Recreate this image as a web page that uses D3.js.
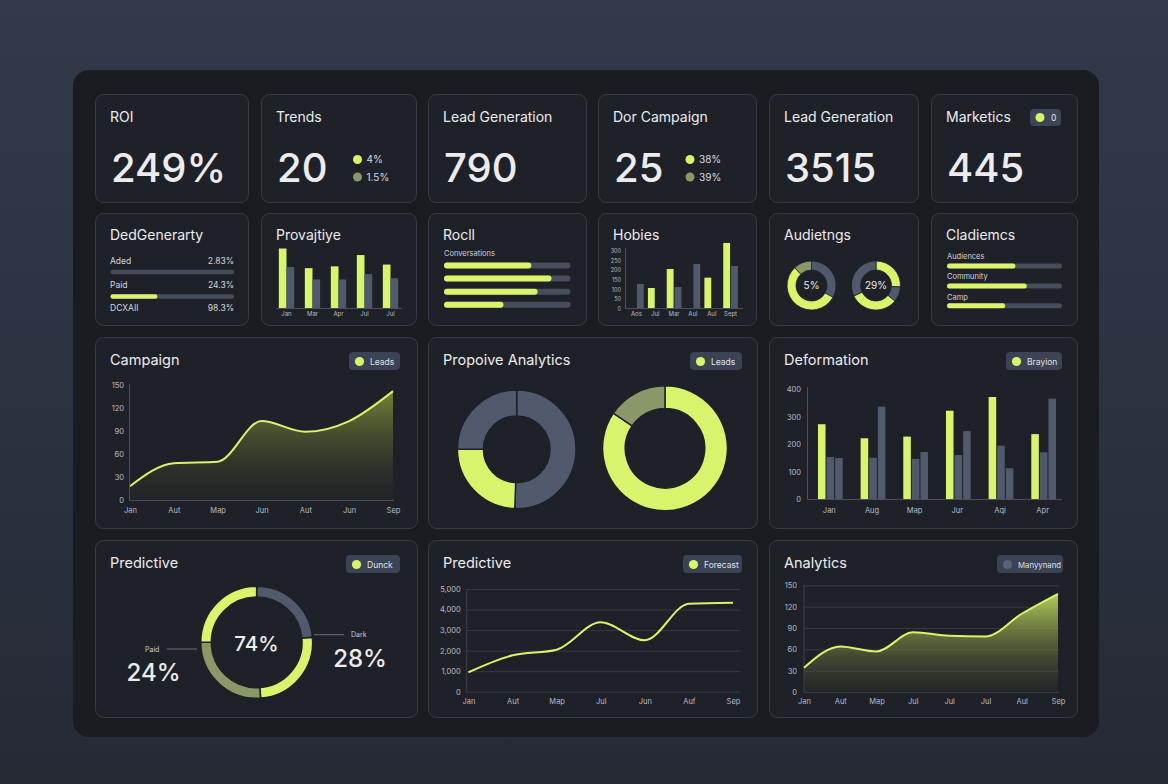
<!DOCTYPE html>
<html><head><meta charset="utf-8">
<script src="https://cdn.jsdelivr.net/npm/d3@7"></script>
<style>html,body{margin:0;padding:0;background:#2b3140;} svg{display:block;font-family:Inter,"Open Sans",sans-serif;}</style>
</head><body><svg id="c" width="1168" height="784"></svg>
<script>
// ---------- DATA ----------
const kpiTitles = ["ROI","Trends","Lead Generation","Dor Campaign","Lead Generation","Marketics"];
const kpiValues = ["249%","20","790","25","3515","445"];
const trendsLegend = ["4%","1.5%"];
const dorLegend = ["38%","39%"];
const marketicsBadge = "0";

const row2Titles = ["DedGenerarty","Provajtiye","Rocll","Hobies","Audietngs","Cladiemcs"];
const dedLabels = ["Aded","Paid","DCXAII"];
const dedValues = ["2.83%","24.3%","98.3%"];
const dedFill = [0, 0.38];
const provMonths = ["Jan","Mar","Apr","Jul","Jul"];
const provLime = [100,67,70,89,73];
const provGrey = [69,48,48,57,50];
const rocllSub = "Conversations";
const rocllValues = [0.69,0.85,0.74,0.47];
const hobMonths = ["Aos","Jul","Mar","Aul","Aul","Sept"];
const hobLime = [0,107,206,0,161,342];
const hobGrey = [128,0,112,232,0,222];
const hobTicks = [0,50,100,150,200,250,300];
const audDonutA = [33,55,12];
const audDonutB = [26,10,32,32];
const audLabels = ["5%","29%"];
const cladLabels = ["Audiences","Community","Camp"];
const cladValues = [0.595,0.694,0.506];

const row3Titles = ["Campaign","Propoive Analytics","Deformation"];
const campMonths = ["Jan","Aut","Map","Jun","Aut","Jun","Sep"];
const campValues = [18,48,50,103,89,103,142];
const campTicks = [0,30,60,90,120,150];
const propDonutA = [50.5,24.5,25];
const propDonutB = [84.5,15.5];
const defMonths = ["Jan","Aug","Map","Jur","Aqi","Apr"];
const defLime = [273,222,228,322,372,237];
const defGreyA = [154,151,147,161,195,171];
const defGreyB = [150,337,172,248,113,366];
const defTicks = [0,100,200,300,400];

const row4Titles = ["Predictive","Predictive","Analytics"];
const predDonut = [23.6,25.3,26.1,25];
const predCenter = "74%";
const predSides = [{label:"Paid", value:"24%"},{label:"Dark", value:"28%"}];
const lineMonths = ["Jan","Aut","Map","Jul","Jun","Auf","Sep"];
const lineValues = [945,1772,2045,3379,2502,4284,4333];
const lineTicks = [0,1000,2000,3000,4000,5000];
const anMonths = ["Jan","Aut","Map","Jul","Jul","Jul","Aul","Sep"];
const anValues = [34,64,57,84,79,78,110,138];
const anTicks = [0,30,60,90,120,150];
const legendLabels = ["Leads","Leads","Brayion","Dunck","Forecast","Manyynand"];

// ---------- STYLE ----------
const LIME="#d7f46c", GREY="#505a6c", OLIVE="#8a9769", TRACK="#474d5a", CARD="#1f2129", TXT="#ececef", AX="#b8bcc5";
const FONT = 'Inter,"Open Sans",sans-serif';

const svg = d3.select('#c');
const defs = svg.append('defs');
const bg = defs.append('linearGradient').attr('id','bg').attr('x1',0).attr('y1',0).attr('x2',0).attr('y2',1);
bg.append('stop').attr('offset',0).attr('stop-color','#323a4b');
bg.append('stop').attr('offset',1).attr('stop-color','#252a35');
function vgrad(id, top, topOp, bot, botOp){
  const g = defs.append('linearGradient').attr('id',id).attr('x1',0).attr('y1',0).attr('x2',0).attr('y2',1);
  g.append('stop').attr('offset',0).attr('stop-color',top).attr('stop-opacity',topOp);
  g.append('stop').attr('offset',1).attr('stop-color',bot).attr('stop-opacity',botOp);
}
vgrad('campFill','#8a9a3c',0.8,'#2b2f26',0.2);
vgrad('anFill','#bcd75c',0.95,'#2e3326',0.3);

svg.append('rect').attr('width',1168).attr('height',784).attr('fill','url(#bg)');
svg.append('rect').attr('x',73).attr('y',70).attr('width',1026).attr('height',667).attr('rx',16).attr('fill','#1b1c21');

function card(x,y,w,h){
  svg.append('rect').attr('x',x+0.5).attr('y',y+0.5).attr('width',w).attr('height',h).attr('rx',8)
    .attr('fill',CARD).attr('stroke','#383b45');
}
function txt(x,y,s,size,o={}){
  return svg.append('text').attr('x',x).attr('y',y).text(s).attr('font-size',size)
    .attr('font-family',FONT).attr('fill',o.fill||TXT).attr('font-weight',o.w||400)
    .attr('text-anchor',o.anchor||'start');
}
function pill(x,y,w,label,dot,fs){
  svg.append('rect').attr('x',x).attr('y',y).attr('width',w).attr('height',18).attr('rx',4).attr('fill','#3b4354');
  svg.append('circle').attr('cx',x+10.5).attr('cy',y+9.5).attr('r',4.6).attr('fill',dot||LIME);
  txt(x+21,y+12.5,label,fs||8.5,{fill:'#dfe2e8'});
}
function donut(cx,cy,rIn,rOut,values,colors,sw){
  const pie = d3.pie().sort(null).value(d=>d);
  const arc = d3.arc().innerRadius(rIn).outerRadius(rOut);
  svg.append('g').attr('transform',`translate(${cx},${cy})`).selectAll('path').data(pie(values)).join('path')
    .attr('d',arc).attr('fill',(d,i)=>colors[i]).attr('stroke','#1f2129').attr('stroke-width',sw);
}
function styleAxis(a,fs){
  a.select('.domain').remove();
  a.selectAll('text').attr('fill',AX).attr('font-size',fs).attr('font-family',FONT);
  a.selectAll('line').attr('stroke','#363a44');
}
function progress(x,y,w,h,frac){
  svg.append('rect').attr('x',x).attr('y',y-h/2).attr('width',w).attr('height',h).attr('rx',h/2).attr('fill',TRACK);
  if(frac>0) svg.append('rect').attr('x',x).attr('y',y-h/2).attr('width',w*frac).attr('height',h).attr('rx',h/2).attr('fill',LIME);
}

const colX=[95,261,428,598,769,931], colW=[153,155,158,158,149,146];

// ---------- ROW 1 ----------
kpiTitles.forEach((t,i)=>{
  card(colX[i],94,colW[i],108);
  txt(colX[i]+15,122,t,14);
  txt(colX[i]+16,181.5,kpiValues[i],40,{w:500});
});
[[357.5,trendsLegend],[690,dorLegend]].forEach(([x,leg])=>{
  leg.forEach((l,j)=>{
    svg.append('circle').attr('cx',x).attr('cy',159.5+j*17.5).attr('r',4.5).attr('fill',j?OLIVE:LIME);
    txt(x+9,163+j*17.5,l,10,{fill:'#d8dbe0'});
  });
});
svg.append('rect').attr('x',1030).attr('y',109).attr('width',31).attr('height',17).attr('rx',4).attr('fill','#3d4556');
svg.append('circle').attr('cx',1040).attr('cy',117.5).attr('r',4.5).attr('fill',LIME);
txt(1051,121,marketicsBadge,8.5,{fill:'#e6e8ec'});

// ---------- ROW 2 ----------
row2Titles.forEach((t,i)=>{
  card(colX[i],213,colW[i],112);
  txt(colX[i]+15,240,t,14);
});
dedLabels.forEach((l,i)=>{
  const y = 264 + i*23.5;
  txt(110,y,l,8.5,{fill:'#d3d6dc'});
  txt(234,y,dedValues[i],8.5,{fill:'#d3d6dc',anchor:'end'});
  if(i<dedFill.length) progress(110.5,272+i*24.5,123.5,4.5,dedFill[i]);
});
{
  const x = d3.scaleBand().domain(d3.range(provMonths.length)).range([273.5,403.5]).paddingInner(0.41).paddingOuter(0.205);
  const y = d3.scaleLinear().domain([0,100]).range([308,248.5]);
  const bw = x.bandwidth()/2;
  svg.append('g').selectAll('rect').data(provLime).join('rect').attr('x',(d,i)=>x(i)).attr('width',bw)
    .attr('y',d=>y(d)).attr('height',d=>y(0)-y(d)).attr('fill',LIME);
  svg.append('g').selectAll('rect').data(provGrey).join('rect').attr('x',(d,i)=>x(i)+bw).attr('width',bw)
    .attr('y',d=>y(d)).attr('height',d=>y(0)-y(d)).attr('fill',GREY);
  svg.append('line').attr('x1',276.5).attr('x2',402).attr('y1',308.5).attr('y2',308.5).attr('stroke','#4a4f5a');
  const a = svg.append('g').attr('transform','translate(0,309)').call(d3.axisBottom(x).tickSize(0).tickPadding(3).tickFormat(i=>provMonths[i]));
  styleAxis(a,6);
}
txt(444,256,rocllSub,7.5,{fill:'#cfd2d8'});
rocllValues.forEach((v,i)=>progress(444,265.5+i*13.1,126.5,6,v));
{
  const x = d3.scaleBand().domain(d3.range(hobMonths.length)).range([627,740]).paddingInner(0.22).paddingOuter(0.11);
  const y = d3.scaleLinear().domain([0,300]).range([308.5,251]);
  const bw = x.bandwidth()/2;
  svg.append('g').selectAll('rect').data(hobLime).join('rect').attr('x',(d,i)=>x(i)).attr('width',bw-0.5)
    .attr('y',d=>y(d)).attr('height',d=>y(0)-y(d)).attr('fill',LIME);
  svg.append('g').selectAll('rect').data(hobGrey).join('rect').attr('x',(d,i)=>x(i)+bw+0.5).attr('width',bw-0.5)
    .attr('y',d=>y(d)).attr('height',d=>y(0)-y(d)).attr('fill',GREY);
  svg.append('line').attr('x1',625).attr('x2',743).attr('y1',308.5).attr('y2',308.5).attr('stroke','#4a4f5a');
  svg.append('line').attr('x1',625.5).attr('x2',625.5).attr('y1',248).attr('y2',308.5).attr('stroke','#4a4f5a');
  const ay = svg.append('g').attr('transform','translate(625,0)').call(d3.axisLeft(y).tickValues(hobTicks).tickSize(0).tickPadding(4));
  styleAxis(ay,5.5);
  const ax = svg.append('g').attr('transform','translate(0,309)').call(d3.axisBottom(x).tickSize(0).tickPadding(3).tickFormat(i=>hobMonths[i]));
  styleAxis(ax,6);
}
donut(811.5,285.5,15.5,24.5,audDonutA,[GREY,LIME,OLIVE],0.8);
donut(876,285.5,15.5,24.5,audDonutB,[LIME,GREY,LIME,GREY],0.8);
txt(811.5,289,audLabels[0],10,{anchor:'middle',fill:'#e8eaee'});
txt(876,289,audLabels[1],10,{anchor:'middle',fill:'#e8eaee'});
cladLabels.forEach((l,i)=>{
  txt(947,259+i*20.3,l,7.5,{fill:'#d3d6dc'});
  progress(947,266+i*19.9,115,5,cladValues[i]);
});

// ---------- ROW 3 ----------
const bigX=[95,428,769], bigW=[322,329,308];
row3Titles.forEach((t,i)=>{ card(bigX[i],337,bigW[i],191); txt(bigX[i]+15,365,t,14.5); });
pill(349,352,51,legendLabels[0]);
pill(690,352,52,legendLabels[1]);
pill(1006,352,56,legendLabels[2]);
{
  const x = d3.scalePoint().domain(d3.range(campMonths.length)).range([130,393]);
  const y = d3.scaleLinear().domain([0,150]).range([500,385]);
  const area = d3.area().x((d,i)=>x(i)).y0(y(0)).y1(d=>y(d)).curve(d3.curveMonotoneX);
  const line = d3.line().x((d,i)=>x(i)).y(d=>y(d)).curve(d3.curveMonotoneX);
  svg.append('path').datum(campValues).attr('d',area).attr('fill','url(#campFill)');
  svg.append('path').datum(campValues).attr('d',line).attr('fill','none').attr('stroke',LIME).attr('stroke-width',2);
  svg.append('line').attr('x1',129.5).attr('x2',129.5).attr('y1',384).attr('y2',500.5).attr('stroke','#4a4f5a');
  svg.append('line').attr('x1',129.5).attr('x2',394).attr('y1',500.5).attr('y2',500.5).attr('stroke','#4a4f5a');
  const ay = svg.append('g').attr('transform','translate(129,0)').call(d3.axisLeft(y).tickValues(campTicks).tickSize(0).tickPadding(5));
  styleAxis(ay,7.5);
  const ax = svg.append('g').attr('transform','translate(0,501)').call(d3.axisBottom(x).tickSize(0).tickPadding(7).tickFormat(i=>campMonths[i]));
  styleAxis(ax,7.5);
}
donut(516.7,449.3,33.3,59.3,propDonutA,[GREY,LIME,GREY],1.5);
donut(665,448.3,39.7,62.5,propDonutB,[LIME,OLIVE],1.5);
{
  const x = d3.scaleBand().domain(d3.range(defMonths.length)).range([808,1064]).paddingInner(0.42).paddingOuter(0.21);
  const xs = d3.scaleBand().domain([0,1,2]).range([0,x.bandwidth()]).paddingInner(0.12);
  const y = d3.scaleLinear().domain([0,400]).range([499.3,389.3]);
  [[defLime,LIME],[defGreyA,GREY],[defGreyB,GREY]].forEach(([vals,col],k)=>{
    svg.append('g').selectAll('rect').data(vals).join('rect').attr('x',(d,i)=>x(i)+xs(k)+1).attr('width',xs.bandwidth())
      .attr('y',d=>y(d)).attr('height',d=>y(0)-y(d)).attr('fill',col);
  });
  svg.append('line').attr('x1',807.5).attr('x2',807.5).attr('y1',387).attr('y2',499.5).attr('stroke','#4a4f5a');
  svg.append('line').attr('x1',807.5).attr('x2',1062).attr('y1',499.5).attr('y2',499.5).attr('stroke','#4a4f5a');
  const ay = svg.append('g').attr('transform','translate(807,0)').call(d3.axisLeft(y).tickValues(defTicks).tickSize(0).tickPadding(6));
  styleAxis(ay,7.5);
  const ax = svg.append('g').attr('transform','translate(0,500)').call(d3.axisBottom(x).tickSize(0).tickPadding(8).tickFormat(i=>defMonths[i]));
  styleAxis(ax,7.5);
}

// ---------- ROW 4 ----------
row4Titles.forEach((t,i)=>{ card(bigX[i],540,bigW[i],177); txt(bigX[i]+15,568,t,14.5); });
pill(346,555,54,legendLabels[3]);
pill(683,555,59,legendLabels[4]);
pill(997,555,66,legendLabels[5],'#59637a',7.8);
donut(256.7,642.3,45.3,56,predDonut,[GREY,LIME,OLIVE,LIME],1.6);
txt(256.5,650.5,predCenter,20.5,{anchor:'middle',w:500});
svg.append('line').attr('x1',167).attr('x2',197).attr('y1',649).attr('y2',649).attr('stroke','#6a707c');
svg.append('line').attr('x1',314).attr('x2',344).attr('y1',634.7).attr('y2',634.7).attr('stroke','#6a707c');
txt(145,651.5,predSides[0].label,7,{fill:'#c8ccd3'});
txt(351,637,predSides[1].label,7,{fill:'#c8ccd3'});
txt(153.5,680.7,predSides[0].value,24,{anchor:'middle',w:500});
txt(360,667.3,predSides[1].value,24,{anchor:'middle',w:500});
{
  const x = d3.scalePoint().domain(d3.range(lineMonths.length)).range([468.5,733]);
  const y = d3.scaleLinear().domain([0,5000]).range([691.7,589]);
  const ay = svg.append('g').attr('transform','translate(466.7,0)').call(d3.axisLeft(y).tickValues(lineTicks).tickSize(-273.3).tickPadding(6).tickFormat(d3.format(',')));
  styleAxis(ay,7.5);
  svg.append('line').attr('x1',466.7).attr('x2',466.7).attr('y1',589).attr('y2',691.7).attr('stroke','#3c4049');
  svg.append('path').datum(lineValues).attr('d',d3.line().x((d,i)=>x(i)).y(d=>y(d)).curve(d3.curveMonotoneX))
    .attr('fill','none').attr('stroke',LIME).attr('stroke-width',2);
  const ax = svg.append('g').attr('transform','translate(0,692)').call(d3.axisBottom(x).tickSize(0).tickPadding(7).tickFormat(i=>lineMonths[i]));
  styleAxis(ax,7.5);
}
{
  const x = d3.scalePoint().domain(d3.range(anMonths.length)).range([804,1058]);
  const y = d3.scaleLinear().domain([0,150]).range([692,585.3]);
  const ay = svg.append('g').attr('transform','translate(804,0)').call(d3.axisLeft(y).tickValues(anTicks).tickSize(-255).tickPadding(7));
  styleAxis(ay,7.5);
  svg.append('line').attr('x1',804).attr('x2',804).attr('y1',585).attr('y2',692).attr('stroke','#3c4049');
  svg.append('path').datum(anValues).attr('d',d3.area().x((d,i)=>x(i)).y0(y(0)).y1(d=>y(d)).curve(d3.curveMonotoneX))
    .attr('fill','url(#anFill)');
  svg.append('path').datum(anValues).attr('d',d3.line().x((d,i)=>x(i)).y(d=>y(d)).curve(d3.curveMonotoneX))
    .attr('fill','none').attr('stroke',LIME).attr('stroke-width',2);
  const ax = svg.append('g').attr('transform','translate(0,692)').call(d3.axisBottom(x).tickSize(0).tickPadding(7).tickFormat(i=>anMonths[i]));
  styleAxis(ax,7.5);
}
</script></body></html>
